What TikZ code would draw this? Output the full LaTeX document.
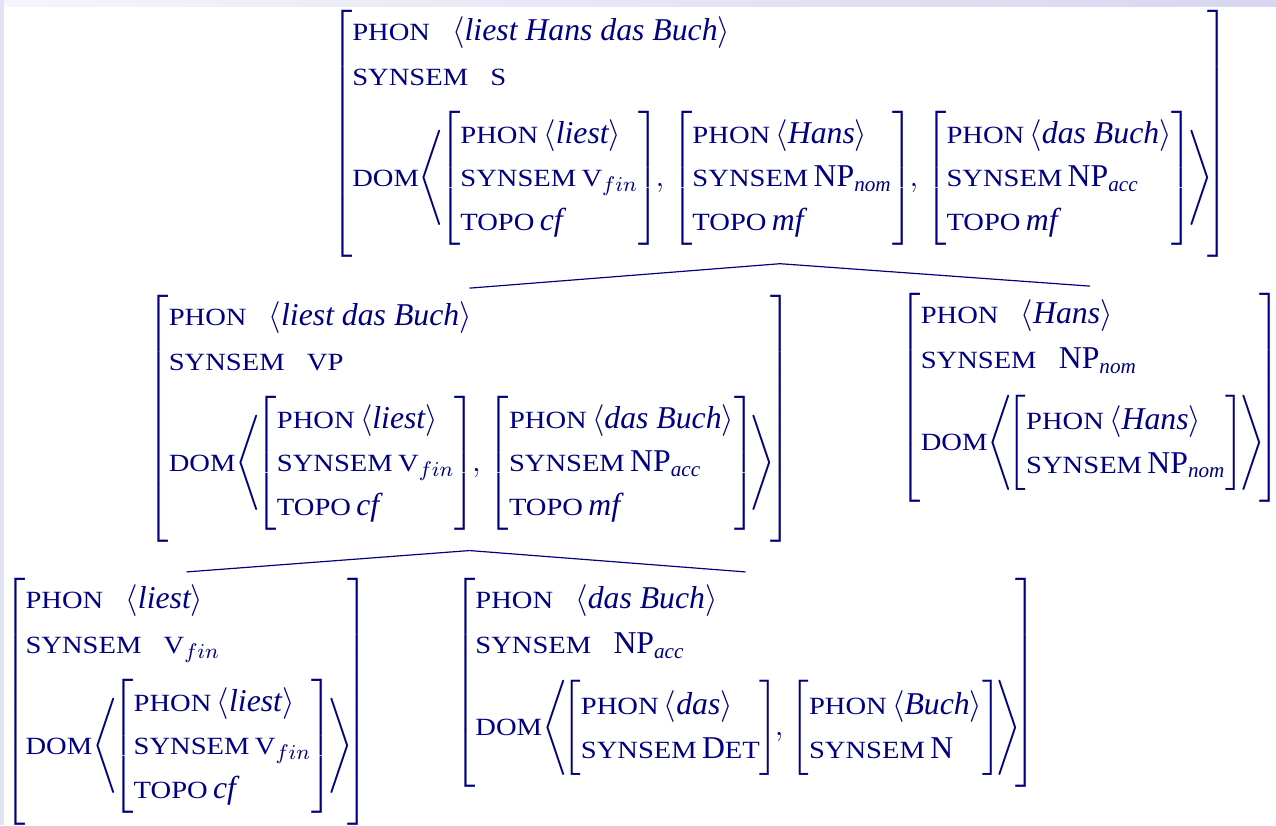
\documentclass[tikz,border=0pt,12pt]{standalone}
\usepackage{amsmath}
\usepackage{fontspec}
\setmainfont{Liberation Serif}
\usepackage{graphicx}
\usetikzlibrary{positioning}
\definecolor{avmblue}{RGB}{0,0,128}
\definecolor{framelav}{RGB}{214,214,240}

% feature names in small capitals
\newcommand{\attr}[1]{\scalebox{0.9}[0.78]{#1}}
\newcommand{\phon}[1]{\attr{PHON}\,\langle\textit{#1}\rangle}
\newcommand{\avm}[1]{{\left[\begin{array}{@{}l@{}}#1\end{array}\right]}}
\newcommand{\avmsep}{\mkern-2mu,\mkern1mu}
\newcommand{\domlist}[1]{\attr{DOM}{\left\langle\!#1\!\right\rangle}\!}
% phon, synsem, dom rows and extra depth below the dom row
\newcommand{\outeravm}[4]{\left[\begin{array}{@{}l@{}}#1\\[0.6pt]#2\\[5pt]#3\rule[-#4]{0pt}{0pt}\end{array}\right]}
\renewcommand{\arraystretch}{1.13}

\begin{document}
\begin{tikzpicture}[
        x=0.378pt, y=-0.378pt,
        avmnode/.style={inner sep=0pt, outer sep=0pt, text=avmblue, anchor=north},
        edge/.style={draw=avmblue, line width=0.45pt}
    ]
        % frame background
        \fill[white] (0,0) rectangle (1276,825);
        \shade[left color=framelav!25, right color=framelav] (0,0) rectangle (1276,6);
        \fill[framelav!70] (0,0) rectangle (4,825);
        \useasboundingbox (0,0) rectangle (1276,825);

        % S
        \node[avmnode] (S) at (780,10) {$\outeravm
            {\attr{PHON}\hspace{0.7em}\langle\textit{liest Hans das Buch}\rangle}
            {\attr{SYNSEM}\hspace{0.7em}\attr{S}}
            {\domlist{\avm{\phon{liest} \\ \attr{SYNSEM}\,\attr{V}_{fin} \\ \attr{TOPO}\,\textit{cf}}\avmsep
                      \avm{\phon{Hans} \\ \attr{SYNSEM}\,\mathrm{NP}_{\textit{nom}} \\ \attr{TOPO}\,\textit{mf}}\avmsep
                      \avm{\phon{das Buch} \\ \attr{SYNSEM}\,\mathrm{NP}_{\textit{acc}} \\ \attr{TOPO}\,\textit{mf}}}}
            {27pt}$};

        % VP
        \node[avmnode] (VP) at (469.5,295) {$\outeravm
            {\attr{PHON}\hspace{0.7em}\langle\textit{liest das Buch}\rangle}
            {\attr{SYNSEM}\hspace{0.7em}\attr{VP}}
            {\domlist{\avm{\phon{liest} \\ \attr{SYNSEM}\,\attr{V}_{fin} \\ \attr{TOPO}\,\textit{cf}}\avmsep
                      \avm{\phon{das Buch} \\ \attr{SYNSEM}\,\mathrm{NP}_{\textit{acc}} \\ \attr{TOPO}\,\textit{mf}}}}
            {27pt}$};

        % NP nom
        \node[avmnode] (NPnom) at (1090,293) {$\outeravm
            {\attr{PHON}\hspace{0.7em}\langle\textit{Hans}\rangle}
            {\attr{SYNSEM}\hspace{0.7em}\mathrm{NP}_{\textit{nom}}}
            {\domlist{\avm{\phon{Hans} \\ \attr{SYNSEM}\,\mathrm{NP}_{\textit{nom}}}}}
            {19.4pt}$};

        % V fin
        \node[avmnode] (Vfin) at (186.5,578) {$\outeravm
            {\attr{PHON}\hspace{0.7em}\langle\textit{liest}\rangle}
            {\attr{SYNSEM}\hspace{0.7em}\attr{V}_{fin}}
            {\domlist{\avm{\phon{liest} \\ \attr{SYNSEM}\,\attr{V}_{fin} \\ \attr{TOPO}\,\textit{cf}}}}
            {27pt}$};

        % NP acc
        \node[avmnode] (NPacc) at (745.5,578) {$\outeravm
            {\attr{PHON}\hspace{0.7em}\langle\textit{das Buch}\rangle}
            {\attr{SYNSEM}\hspace{0.7em}\mathrm{NP}_{\textit{acc}}}
            {\domlist{\avm{\phon{das} \\ \attr{SYNSEM}\,\mathrm{D}\attr{ET}}\avmsep
                      \avm{\phon{Buch} \\ \attr{SYNSEM}\,\mathrm{N}}}}
            {19.4pt}$};

        % branches
        \draw[edge] ([yshift=-2.3pt]S.south) -- ([yshift=2.6pt]VP.north);
        \draw[edge] ([yshift=-2.3pt]S.south) -- ([yshift=2.6pt]NPnom.north);
        \draw[edge] ([yshift=-3pt]VP.south) -- ([yshift=2.3pt]Vfin.north);
        \draw[edge] ([yshift=-3pt]VP.south) -- ([yshift=2.3pt]NPacc.north);
    \end{tikzpicture}
\end{document}
